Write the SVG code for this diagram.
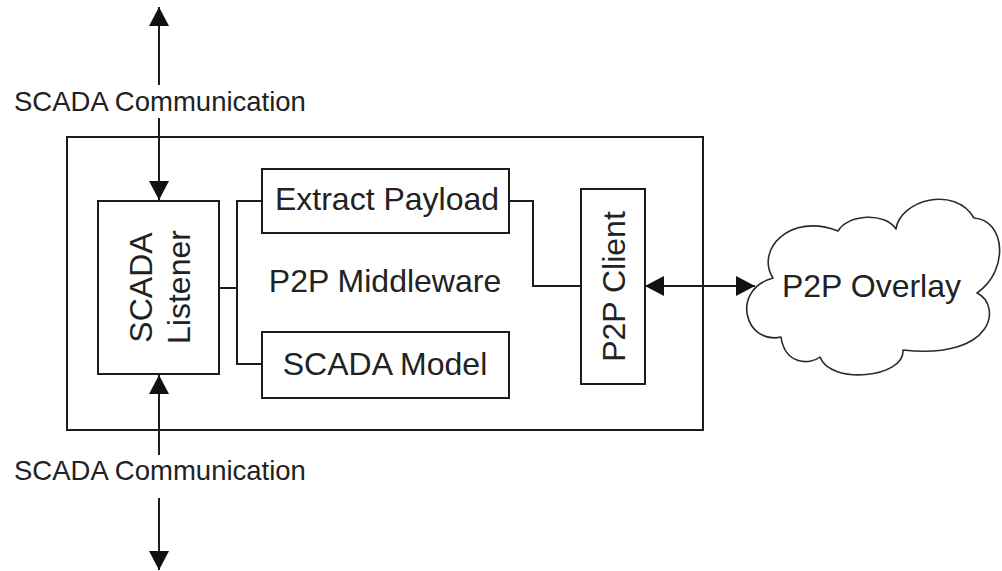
<svg xmlns="http://www.w3.org/2000/svg" width="1002" height="571" viewBox="0 0 1002 571">
  <defs>
    <style>
      .box { fill: #ffffff; stroke: #1c1c1c; stroke-width: 2; }
      .wire { fill: none; stroke: #1c1c1c; stroke-width: 2; }
      .cloud { fill: #ffffff; stroke: #2a2a2a; stroke-width: 1.6; stroke-linejoin: round; }
      .lbl { font-family: "Liberation Sans", Arial, sans-serif; font-size: 32px; fill: #222222; }
      .side { font-family: "Liberation Sans", Arial, sans-serif; font-size: 27.5px; fill: #222222; }
    </style>
    <marker id="head" viewBox="0 0 19 20" refX="19" refY="10" markerWidth="19" markerHeight="20" markerUnits="userSpaceOnUse" orient="auto-start-reverse">
      <path d="M0,0 L19,10 L0,20 Z" fill="#111111"/>
    </marker>
  </defs>

  <rect width="1002" height="571" fill="#ffffff"/>

  <!-- P2P Middleware container -->
  <g id="middleware">
    <rect class="box" x="67" y="137" width="636" height="293"/>
    <text class="lbl" x="385" y="292" text-anchor="middle">P2P Middleware</text>
  </g>

  <!-- connectors -->
  <g id="connectors">
    <line class="wire" x1="159" y1="85" x2="159" y2="7" marker-end="url(#head)"/>
    <line class="wire" x1="159" y1="118" x2="159" y2="200" marker-end="url(#head)"/>
    <line class="wire" x1="159" y1="455" x2="159" y2="375" marker-end="url(#head)"/>
    <line class="wire" x1="159" y1="498" x2="159" y2="570" marker-end="url(#head)"/>
    <polyline class="wire" points="219,288 237,288"/>
    <polyline class="wire" points="262,201 237,201 237,364 262,364"/>
    <polyline class="wire" points="509,201 533,201 533,286 581,286"/>
    <line class="wire" x1="645" y1="286" x2="755" y2="286" marker-start="url(#head)" marker-end="url(#head)"/>
  </g>

  <g id="scada-listener">
    <rect class="box" x="98" y="201" width="121" height="173"/>
    <text class="lbl" transform="translate(152,287.5) rotate(-90)" text-anchor="middle">SCADA</text>
    <text class="lbl" transform="translate(190,287) rotate(-90)" text-anchor="middle">Listener</text>
  </g>

  <g id="extract-payload">
    <rect class="box" x="262" y="169" width="247" height="64"/>
    <text class="lbl" x="387" y="210" text-anchor="middle">Extract Payload</text>
  </g>

  <g id="scada-model">
    <rect class="box" x="262" y="332" width="247" height="66"/>
    <text class="lbl" x="385" y="375" text-anchor="middle">SCADA Model</text>
  </g>

  <g id="p2p-client">
    <rect class="box" x="581" y="189" width="64" height="195"/>
    <text class="lbl" transform="translate(625,286.5) rotate(-90)" text-anchor="middle">P2P Client</text>
  </g>

  <g id="p2p-overlay">
    <path class="cloud" d="M773,278
      C755,250 790,212 838,231
      C848,214 885,212 896,229
      C900,200 955,185 974,218
      C1005,220 1010,270 977,293
      C1002,305 995,360 903,350
      C905,378 830,385 820,357
      C810,365 785,365 781,337
      C745,345 730,290 773,278 Z"/>
    <text class="lbl" x="871.5" y="297" text-anchor="middle">P2P Overlay</text>
  </g>

  <g id="labels">
    <text class="side" x="14" y="111">SCADA Communication</text>
    <text class="side" x="14" y="480">SCADA Communication</text>
  </g>
</svg>
